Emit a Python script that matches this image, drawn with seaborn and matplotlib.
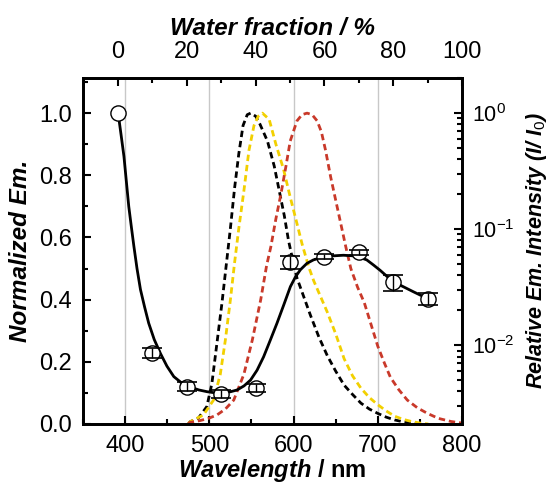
import numpy as np
import pandas as pd
import matplotlib
matplotlib.use("Agg")
import matplotlib.pyplot as plt
import seaborn as sns
from matplotlib.ticker import MultipleLocator, LogLocator, NullFormatter, FormatStrFormatter

sns.set_style("ticks")
plt.rcParams["font.family"] = ["Liberation Sans", "DejaVu Sans"]
plt.rcParams["mathtext.fontset"] = "custom"
plt.rcParams["mathtext.rm"] = "Liberation Sans"
plt.rcParams["mathtext.it"] = "Liberation Sans:italic:bold"
plt.rcParams["mathtext.bf"] = "Liberation Sans:bold"
for k in ["text.color", "axes.labelcolor", "xtick.color", "ytick.color", "axes.edgecolor"]:
    plt.rcParams[k] = "black"

# emission spectra (normalized)
wl_black = [475, 477, 487, 497, 503, 509, 515, 520, 525, 530, 535, 540, 545, 549, 555, 560,
            569, 577, 583, 589, 594, 598, 604, 612, 620, 630, 640, 650, 660, 670, 680, 690,
            700, 710, 720, 730, 740, 750]
em_black = [0.0, 0.007, 0.019, 0.056, 0.13, 0.26, 0.39, 0.51, 0.63, 0.76, 0.87, 0.96, 0.995, 1.0, 0.99, 0.965,
            0.91, 0.83, 0.75, 0.67, 0.59, 0.54, 0.47, 0.41, 0.35, 0.28, 0.22, 0.17, 0.125, 0.095, 0.067, 0.048,
            0.034, 0.022, 0.013, 0.007, 0.003, 0.0]

wl_yellow = [475, 477, 493, 505, 513, 519, 525, 530, 535, 541, 547, 553, 558, 563, 571, 579,
             588, 596, 604, 610, 618, 624, 632, 640, 650, 660, 670, 680, 690, 700, 710, 720,
             730, 740, 750, 760]
em_yellow = [0.0, 0.007, 0.029, 0.077, 0.16, 0.27, 0.40, 0.52, 0.63, 0.75, 0.88, 0.96, 0.99, 1.0, 0.98, 0.90,
             0.82, 0.73, 0.645, 0.58, 0.505, 0.46, 0.41, 0.36, 0.29, 0.21, 0.155, 0.115, 0.085, 0.062, 0.042, 0.025,
             0.015, 0.008, 0.003, 0.0]

wl_red = [475, 477, 489, 499, 509, 519, 529, 541, 551, 561, 568, 573, 579, 585, 591, 596,
          604, 610, 616, 622, 628, 633, 638, 644, 650, 656, 662, 668, 676, 684, 692, 700, 708,
          715, 725, 735, 747, 759, 772, 787, 800]
em_red = [0.0, 0.005, 0.011, 0.018, 0.029, 0.048, 0.077, 0.16, 0.27, 0.40, 0.51, 0.57, 0.66, 0.74, 0.83, 0.91,
          0.975, 0.995, 1.0, 0.995, 0.975, 0.94, 0.88, 0.795, 0.72, 0.645, 0.57, 0.50, 0.44, 0.39, 0.32, 0.25, 0.195,
          0.15, 0.11, 0.077, 0.052, 0.034, 0.018, 0.008, 0.003]

# relative intensity vs water fraction
water = [0, 10, 20, 30, 40, 50, 60, 70, 80, 90]
rel_int = [1.0, 0.0086, 0.0044, 0.0038, 0.0043, 0.052, 0.058, 0.063, 0.035, 0.025]
rel_err = [0.0, 0.00085, 0.0004, 0.0003, 0.00034, 0.0062, 0.0029, 0.0037, 0.0056, 0.003]

# smooth guide line through the points (log10 values)
fit_water = [0, 0.85, 1.7, 2.4, 3.1, 3.85, 4.6, 5.5, 6.5, 7.7, 8.9, 10.5, 12.3, 14.2, 16.2, 18.5,
             21.0, 23.5, 25.9, 28.3, 30.7, 32.7, 34.6, 36.6, 38.5, 40.4, 42.3, 44.2, 46.2, 48.2,
             50.1, 51.6, 53.0, 54.9, 56.8, 59.7, 62.6, 65.5, 68.4, 70.4, 72.3, 74.3, 76.2, 78.3,
             80.5, 83.2, 85.9, 88.0, 90.2]
fit_log = [0.0, -0.185, -0.374, -0.59, -0.805, -0.98, -1.15, -1.34, -1.52, -1.67, -1.81, -1.95, -2.07, -2.18,
           -2.27, -2.325, -2.36, -2.385, -2.40, -2.41, -2.41, -2.40, -2.385, -2.35, -2.30, -2.215, -2.10,
           -1.96, -1.81, -1.65, -1.495, -1.41, -1.35, -1.295, -1.265, -1.24, -1.23, -1.225, -1.23, -1.245,
           -1.265, -1.31, -1.355, -1.41, -1.46, -1.50, -1.54, -1.57, -1.595]

fig = plt.figure(figsize=(5.48, 4.86), dpi=100)
ax = fig.add_axes([0.1515, 0.1276, 0.6916, 0.7119])
ax.set_axisbelow(True)
ax.grid(axis="x", color="#c8c8c8", lw=1.0)

spec = pd.concat([
    pd.DataFrame({"wl": wl_black, "em": em_black, "s": "a"}),
    pd.DataFrame({"wl": wl_yellow, "em": em_yellow, "s": "b"}),
    pd.DataFrame({"wl": wl_red, "em": em_red, "s": "c"}),
])
sns.lineplot(data=spec, x="wl", y="em", hue="s",
             palette={"a": "black", "b": "#f2d000", "c": "#c9392a"},
             lw=2.0, legend=False, ax=ax, sort=False)
for l in ax.get_lines():
    l.set_linestyle((0, (2.3, 1.4)))

ax.set_xlim(350, 800)
ax.set_ylim(0, 1.113)
ax.xaxis.set_major_locator(MultipleLocator(100))
ax.xaxis.set_minor_locator(MultipleLocator(50))
ax.yaxis.set_major_locator(MultipleLocator(0.2))
ax.yaxis.set_minor_locator(MultipleLocator(0.1))
ax.yaxis.set_major_formatter(FormatStrFormatter("%.1f"))
ax.tick_params(which="both", direction="in", top=False, right=False, width=1.5,
               labelsize=17)
ax.tick_params(axis="x", pad=8)
ax.tick_params(axis="y", pad=8)
ax.tick_params(which="major", length=6)
ax.tick_params(which="minor", length=3.5)
ax.set_xlabel(r"$\mathit{Wavelength}$ / nm", fontsize=17, fontweight="bold", labelpad=0)
ax.set_ylabel("Normalized Em.", fontsize=17.5, fontweight="bold", fontstyle="italic", labelpad=5)

ax2 = ax.twinx()
ax2.set_yscale("log")
ax2.set_ylim(0.0021, 2.0)
ax2.yaxis.set_major_locator(LogLocator(base=10))
ax2.yaxis.set_minor_locator(LogLocator(base=10, subs=np.arange(2, 10)))
ax2.yaxis.set_minor_formatter(NullFormatter())
ax2.tick_params(which="both", direction="in", width=1.5, labelsize=15.5, pad=7)
ax2.tick_params(which="major", length=6)
ax2.tick_params(which="minor", length=3.5)
ax2.set_ylabel(r"Relative Em. Intensity (I/ I$_0$)", fontsize=15.5, fontweight="bold",
               fontstyle="italic", labelpad=7)

ax3 = ax2.twiny()
ax3.set_xlim(-10.2, 100)
ax3.xaxis.set_major_locator(MultipleLocator(20))
ax3.xaxis.set_minor_locator(MultipleLocator(10))
ax3.tick_params(which="both", direction="in", width=1.5, labelsize=17, pad=11)
ax3.tick_params(which="major", length=6)
ax3.tick_params(which="minor", length=3.5)
ax3.set_xlabel("Water fraction / %", fontsize=17.5, fontweight="bold", fontstyle="italic", labelpad=4)

fit = pd.DataFrame({"w": fit_water, "v": 10 ** np.array(fit_log)})
sns.lineplot(data=fit, x="w", y="v", color="black", lw=2.0, ax=ax3, sort=False)

pts = pd.DataFrame({"w": water, "v": rel_int})
sns.scatterplot(data=pts, x="w", y="v", s=120, facecolor="white", edgecolor="black",
                linewidth=1.0, ax=ax3, zorder=3)
err_idx = [i for i, e in enumerate(rel_err) if e > 0]
ax3.errorbar([water[i] for i in err_idx], [rel_int[i] for i in err_idx],
             yerr=[rel_err[i] for i in err_idx], fmt="none", ecolor="black",
             elinewidth=1.0, capsize=7, capthick=1.2, zorder=4)
ax3.set_ylabel("")
ax2.set_ylim(0.0021, 2.0)

for a in (ax, ax2, ax3):
    for sp in a.spines.values():
        sp.set_linewidth(1.8)

plt.savefig("out.png", dpi=100)
